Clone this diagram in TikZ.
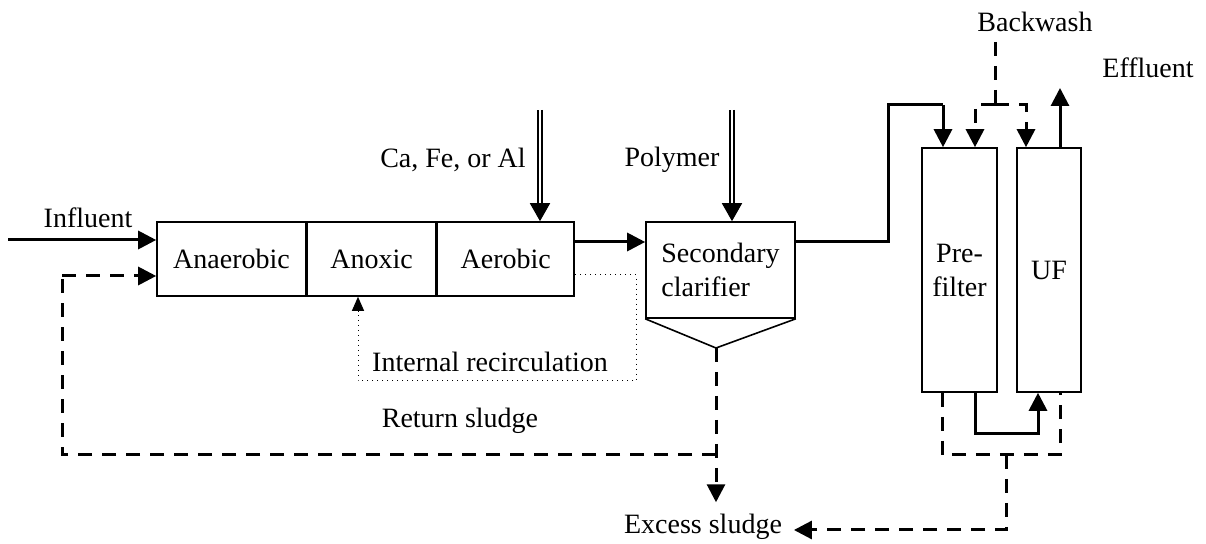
\documentclass[tikz,border=0pt]{standalone}
\usepackage{fontspec}
\setmainfont{Liberation Serif}
\usetikzlibrary{arrows.meta,positioning}

\begin{document}
\begin{tikzpicture}[x=0.5pt, y=-0.5pt,
  every node/.style={font=\fontsize{14}{17}\selectfont},
  tag/.style={rectangle, text centered, inner sep=1pt},
  cell/.style={draw, line width=0.8pt, minimum height=37pt, inner sep=0pt},
  column/.style={draw, line width=0.8pt, minimum height=122pt, inner sep=0pt, align=center},
  flow/.style={line width=1.5pt, -{Triangle[length=9pt,width=9pt]}},
  sludge/.style={line width=1.5pt, dash pattern=on 7pt off 5pt},
  recirc/.style={line width=0.5pt, dotted, -{Triangle[length=7pt,width=6pt]}},
  dose/.style={double, line width=0.9pt, double distance=1.2pt, -{Triangle[length=9pt,width=10pt]}}]
\useasboundingbox (0,0) rectangle (1206,544);

\node [cell, minimum width=74.5pt] (anaer) at (231.5,259) {Anaerobic};
\node [cell, minimum width=64pt, right=0pt of anaer] (anox) {Anoxic};
\node [cell, minimum width=68.5pt, right=0pt of anox] (aer) {Aerobic};
\node [cell, minimum width=74.5pt, minimum height=48pt, align=left] (clar) at (720.5,270) {Secondary\\clarifier};
\node [column, minimum width=37.5pt] (pref) at (959.5,270) {Pre-\\filter};
\node [column, minimum width=32pt] (uf) at (1049,270) {UF};

\node [tag] (inlbl) at (88,218) {Influent};
\node [tag] (chemlbl) at (453,160) {Ca, Fe, or Al};
\node [tag] (polylbl) at (672,160) {Polymer};
\node [tag] (irlbl) at (490,362) {Internal recirculation};
\node [tag] (rslbl) at (460,421) {Return sludge};
\node [tag, outer sep=5pt] (excess) at (703,527) {Excess sludge};
\node [tag, outer sep=4pt] (bwlbl) at (1035,22) {Backwash};
\node [tag] (efflbl) at (1148,68) {Effluent};

\coordinate (in) at (8,240);
\draw [flow] (in) -- (in -| anaer.west);

\coordinate (chem) at (540,110);
\draw [dose] (chem) -- (chem |- aer.north);
\coordinate (poly) at (732,110);
\draw [dose] (poly) -- (poly |- clar.north);

\coordinate (tip) at (716,348);
\draw [line width=0.8pt] (clar.south west) -- (tip) -- (clar.south east);

\draw [flow] ([yshift=8.5pt]aer.east) -- ([yshift=8.5pt]aer.east -| clar.west);

\coordinate (ir1) at (636,275);
\coordinate (ir2) at (636,381);
\coordinate (ir3) at (358,381);
\draw [recirc] (ir1 -| aer.east) -- (ir1) -- (ir2) -- (ir3) -- (ir3 |- anox.south);

\coordinate (junc) at (716,455);
\coordinate (rs1) at (62,455);
\coordinate (rs2) at (62,276);
\draw [sludge] (junc) -- (rs1) -- (rs2);
\draw [sludge, -{Triangle[length=9pt,width=9pt]}] (rs2) -- (rs2 -| anaer.west);
\draw [sludge, -{Triangle[length=9pt,width=9pt]}] (tip) -- (tip |- excess.north);

\coordinate (up1) at (888,105);
\coordinate (feed) at (943,105);
\draw [line width=1.5pt] ([yshift=14pt]clar.east) -| (up1) -- (feed);
\draw [flow] (feed) -- (feed |- pref.north);

\coordinate (bw) at (995,105);
\coordinate (bwl) at (975,105);
\coordinate (bwr) at (1026,105);
\draw [sludge] (bw |- bwlbl.south) -- (bw);
\draw [sludge, -{Triangle[length=9pt,width=9pt]}] (bw) -- (bwl) -- (bwl |- pref.north);
\draw [sludge, -{Triangle[length=9pt,width=9pt]}] (bw) -- (bwr) -- (bwr |- uf.north);

\coordinate (eff) at (1060,88);
\draw [flow] (eff |- uf.north) -- (eff);

\coordinate (tr1) at (975,434);
\coordinate (tr2) at (1038,434);
\draw [flow] (tr1 |- pref.south) -- (tr1) -- (tr2) -- (tr2 |- uf.south);

\coordinate (dr1) at (942,455);
\coordinate (dr2) at (1060,455);
\coordinate (dr3) at (1006,455);
\coordinate (dr4) at (1006,530);
\draw [sludge] (dr1 |- pref.south) -- (dr1) -- (dr2) -- (dr2 |- uf.south);
\draw [sludge, -{Triangle[length=9pt,width=9pt]}] (dr3) -- (dr4) -- (dr4 -| excess.east);

\end{tikzpicture}
\end{document}
